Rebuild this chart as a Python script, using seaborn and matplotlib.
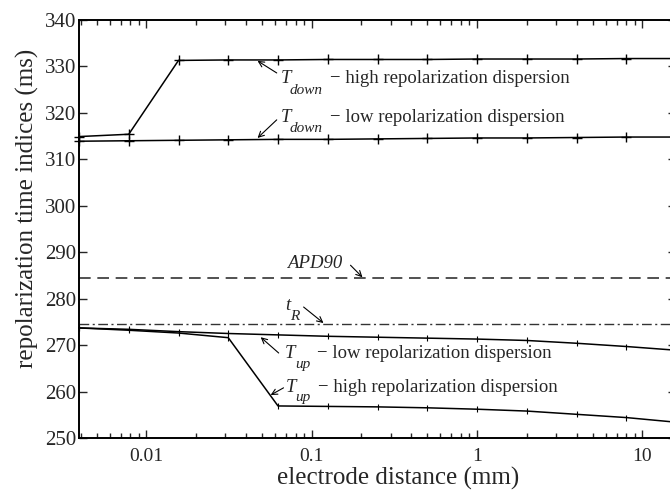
import numpy as np
import pandas as pd
import matplotlib
matplotlib.use("Agg")
import matplotlib.pyplot as plt
import seaborn as sns
from matplotlib.ticker import LogLocator, FixedLocator, NullFormatter

# ---- data ----
dist = [2**-8, 2**-7, 2**-6, 2**-5, 2**-4, 2**-3, 2**-2, 2**-1, 1, 2, 4, 8, 16]
t_down_high = [314.9, 315.4, 331.3, 331.4, 331.4, 331.5, 331.5, 331.5, 331.6, 331.6, 331.6, 331.7, 331.7]
t_down_low = [313.9, 314.0, 314.1, 314.2, 314.3, 314.3, 314.4, 314.5, 314.6, 314.6, 314.7, 314.8, 314.8]
t_up_low = [273.7, 273.4, 272.9, 272.5, 272.2, 271.9, 271.7, 271.5, 271.3, 271.0, 270.4, 269.7, 268.9]
t_up_high = [273.7, 273.2, 272.6, 271.6, 256.9, 256.8, 256.7, 256.5, 256.2, 255.8, 255.1, 254.4, 253.4]
apd90 = 284.4
t_r = 274.5
y_ticks = [250, 260, 270, 280, 290, 300, 310, 320, 330, 340]
x_ticks = [0.01, 0.1, 1, 10]
x_tick_labels = ["0.01", "0.1", "1", "10"]

sns.set_style("ticks")
plt.rcParams["font.family"] = ["Liberation Serif", "DejaVu Serif"]
plt.rcParams["mathtext.fontset"] = "stix"

W, H = 670, 491
fig = plt.figure(figsize=(W / 100, H / 100), dpi=100)
left, right, top, bottom = 79, 676, 20, 438
ax = fig.add_axes([left / W, 1 - bottom / H, (right - left) / W, (bottom - top) / H])

for series in [t_down_high, t_down_low]:
    sns.lineplot(x=dist, y=series, ax=ax, color="black", lw=1.1, marker="+",
                 markersize=7, markeredgewidth=1.0, markeredgecolor="black", clip_on=False)
for series in [t_up_low, t_up_high]:
    sns.lineplot(x=dist, y=series, ax=ax, color="black", lw=1.1, marker="|",
                 markersize=4, markeredgewidth=0.8, markeredgecolor="black", clip_on=False)

ax.axhline(apd90, color="#333333", lw=1.2, dashes=(7, 4))
ax.axhline(t_r, color="#333333", lw=1.0, dashes=(7, 2.5, 1.5, 2.5))

ax.set_xscale("log")
ax.set_xlim(2**-8, 16)
ax.set_ylim(250, 340)
ax.yaxis.set_major_locator(FixedLocator(y_ticks))
ax.xaxis.set_major_locator(FixedLocator(x_ticks))
ax.set_xticklabels(x_tick_labels)
ax.xaxis.set_minor_locator(LogLocator(base=10, subs=np.arange(2, 10), numticks=20))
ax.xaxis.set_minor_formatter(NullFormatter())

ax.tick_params(which="both", direction="in", top=True, right=True, width=1.0)
ax.tick_params(axis="y", labelsize=15, pad=2)
ax.tick_params(axis="x", labelsize=14, pad=7)
ax.tick_params(which="major", length=6)
ax.tick_params(which="minor", length=3.5)
for s in ax.spines.values():
    s.set_linewidth(1.4)
    s.set_color("black")

ax.set_xlabel("electrode distance (mm)", fontsize=18, va="baseline", ha="center")
ax.set_ylabel("repolarization time indices (ms)", fontsize=18, va="center", ha="center")
ax.xaxis.set_label_coords((398 - left) / (right - left), -(485 - bottom) / (bottom - top))
ax.yaxis.set_label_coords((27 - left) / (right - left), (bottom - 208) / (bottom - top))


def px(x, y):
    """figure pixel (from top-left) -> data coordinates, for annotation placement"""
    return tuple(ax.transData.inverted().transform((x, H - y)))


arrow = dict(arrowstyle="->", lw=0.8, color="black", shrinkA=0, shrinkB=0)
fs, fsub = 13.5, 11


def label(tx, ty, main, sub, sx, sy, rest, rx):
    ax.text(*px(tx, ty), main, fontsize=fs, style="italic", va="baseline", ha="left")
    ax.text(*px(sx, sy), sub, fontsize=fsub, style="italic", va="baseline", ha="left")
    if rest:
        ax.text(*px(rx, ty), rest, fontsize=fs, va="baseline", ha="left")


# T_down high
ax.annotate("", xy=(0.0470, 331.2), xytext=(0.0614, 328.6), arrowprops=arrow)
label(281, 83.5, "T", "down", 290, 93.5, "\u2212 high repolarization dispersion", 330)
# T_down low
ax.annotate("", xy=(0.0470, 314.6), xytext=(0.0614, 318.5), arrowprops=arrow)
label(281, 122.5, "T", "down", 290, 132, "\u2212 low repolarization dispersion", 330)
# APD90
ax.annotate("", xy=(0.2028, 284.6), xytext=(0.1716, 287.2), arrowprops=arrow)
ax.text(*px(287, 268), "APD90", fontsize=fs, style="italic", va="baseline")
# t_R
ax.annotate("", xy=(0.1178, 274.75), xytext=(0.0893, 278.2), arrowprops=arrow)
label(285, 310, "t", "R", 290, 320, "", 0)
# T_up low
ax.annotate("", xy=(0.0491, 271.7), xytext=(0.0631, 268.3), arrowprops=arrow)
label(285, 358.5, "T", "up", 295, 368, "\u2212 low repolarization dispersion", 317)
# T_up high
ax.annotate("", xy=(0.0564, 259.25), xytext=(0.0675, 260.8), arrowprops=arrow)
label(286, 391.5, "T", "up", 295, 401.5, "\u2212 high repolarization dispersion", 318)

fig.savefig("out.png", dpi=100)
